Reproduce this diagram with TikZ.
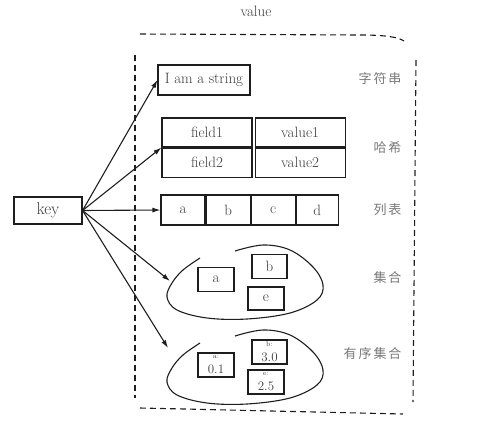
\documentclass[tikz,border=0pt]{standalone}
\usepackage{fontspec}
\newfontfamily\cjk[LetterSpace=15]{Noto Sans CJK SC}
\usepackage{tikz}
\usetikzlibrary{positioning, arrows, arrows.meta}
\definecolor{tinta}{RGB}{30, 30, 30}
\definecolor{letra}{RGB}{60, 60, 60}
\definecolor{gris}{RGB}{120, 120, 120}
\tikzset{
    cell/.style={draw, rectangle, draw=tinta, text=letra, line width=1.1pt, inner sep=0pt, font=\fontsize{15}{17}\selectfont},
    hcell/.style={cell, minimum width=90pt, minimum height=29pt},
    lcell/.style={cell, minimum width=44pt, minimum height=30pt},
    scell/.style={cell, minimum width=36pt, minimum height=24pt},
    zcell/.style={cell, minimum width=36pt, minimum height=24pt, align=center, font=\fontsize{13}{14}\selectfont},
    tipo/.style={text=gris, anchor=east, font=\cjk\fontsize{13}{15}\selectfont},
    conn/.style={-{Latex[length=8pt, width=5pt]}, tinta, line width=1.1pt},
    borde/.style={tinta, line width=1.1pt, dash pattern=on 6pt off 4pt},
    bolsa/.style={tinta, line width=1.1pt},
}
\newcommand{\zval}[2]{{\fontsize{7}{7}\selectfont #1}\\[1pt]#2}

\begin{document}
\begin{tikzpicture}[x=1pt, y=-1pt]
        \useasboundingbox (0,0) rectangle (480,429);

        \node[text=letra, font=\fontsize{15}{17}\selectfont] (val) at (256,11) {value};

        \draw[borde] (140,34) -- (360,35) .. controls (385,35) and (398,37) .. (404,41);
        \draw[borde] (135,55) -- (135,398);
        \draw[borde] (416,60) -- (413,402);
        \draw[borde] (140,408) -- (403,414);

        \node[cell, minimum width=68pt, minimum height=27pt, font=\fontsize{17}{19}\selectfont] (key) at (48,210.5) {key};

        \node[cell, minimum width=92pt, minimum height=30pt] (str) at (204,80) {I am a string};

        \node[hcell] (f1) at (207,132.5) {field1};
        \node[hcell, right=2pt of f1] (v1) {value1};
        \node[hcell, below=0pt of f1] (f2) {field2};
        \node[hcell, below=0pt of v1] (v2) {value2};

        \node[lcell] (la) at (183,210) {a};
        \node[lcell, right=0pt of la] (lb) {b};
        \node[lcell, right=0pt of lb] (lc) {c};
        \node[lcell, right=0pt of lc, minimum width=42pt] (ld) {d};

        \draw[bolsa] plot[smooth, tension=0.6] coordinates {(235,251) (263,245) (290,250) (313,267) (323,285) (317,300) (290,313) (247,319) (207,318) (177,310) (167,297) (172,283) (183,270) (200,258)};
        \coordinate (setin) at (170,281);
        \node[scell] (sa) at (216,279.5) {a};
        \node[scell, minimum width=35pt] (sb) at (269.5,266.5) {b};
        \node[scell, minimum height=23pt] (se) at (266,298.5) {e};

        \draw[bolsa] plot[smooth, tension=0.6] coordinates {(235,336) (263,330) (290,335) (313,352) (323,370) (317,385) (290,398) (247,404) (207,403) (177,395) (167,382) (172,368) (183,355) (200,343)};
        \coordinate (zsetin) at (168,348);
        \node[zcell] (za) at (216,365) {\zval{a:}{0.1}};
        \node[zcell, minimum width=35pt] (zb) at (269.5,352) {\zval{b:}{3.0}};
        \node[zcell] (ze) at (266,382) {\zval{e:}{2.5}};

        \node[tipo] (tstr) at (405,79) {字符串};
        \node[tipo] (thash) at (405,148) {哈希};
        \node[tipo] (tlist) at (405,210) {列表};
        \node[tipo] (tset) at (405,278) {集合};
        \node[tipo] (tzset) at (405,354) {有序集合};

        \draw[conn] (key.east) -- (str.west);
        \draw[conn] (key.east) -- (f1.south west);
        \draw[conn] (key.east) -- (la.west);
        \draw[conn] (key.east) -- (setin);
        \draw[conn] (key.east) -- (zsetin);
    \end{tikzpicture}
\end{document}
